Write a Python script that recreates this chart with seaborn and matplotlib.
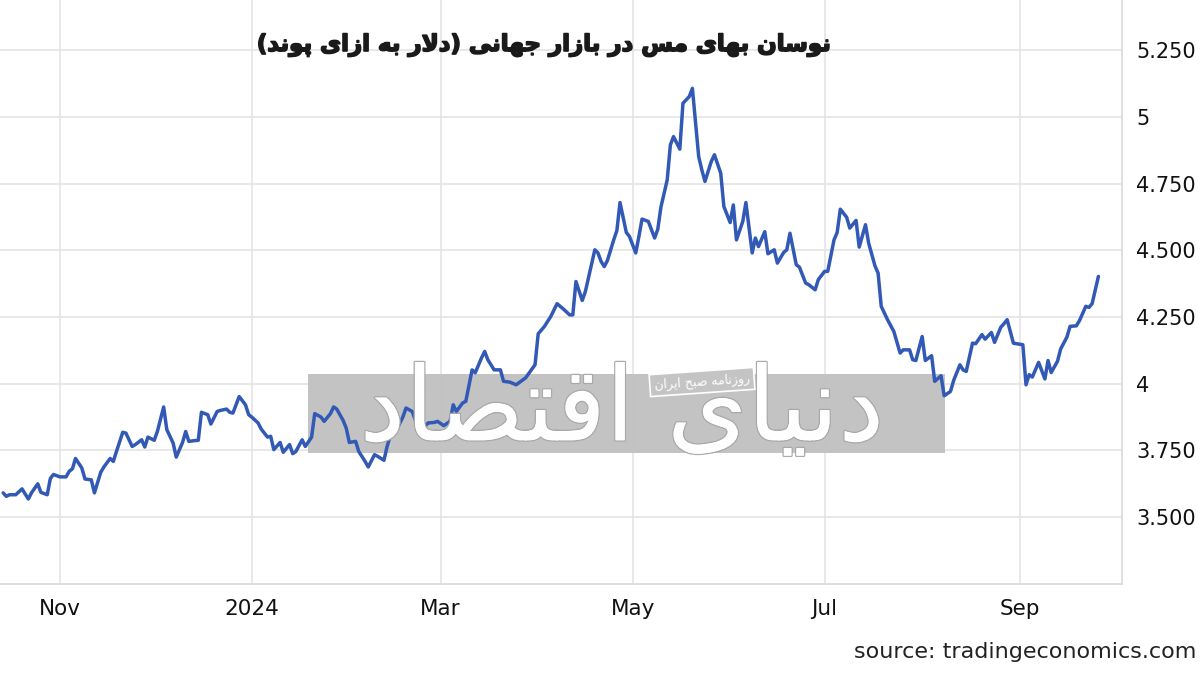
import numpy as np
import pandas as pd
import matplotlib
matplotlib.use("Agg")
import matplotlib.pyplot as plt
import matplotlib.patheffects as pe
from matplotlib.patches import Rectangle
import seaborn as sns

# copper price, USD per pound
start_date = "2023-10-14"
day_offsets = [0, 1, 2, 4, 6, 8, 9, 11, 12, 14, 15, 16, 18, 20, 21, 22, 23, 25, 26, 28,
               29, 31, 32, 34, 35, 36, 38, 39, 41, 42, 44, 45, 46, 48, 49, 51, 52, 54, 55, 57,
               58, 59, 61, 62, 63, 65, 66, 68, 69, 71, 72, 73, 75, 77, 78, 79, 81, 82, 84, 85,
               86, 88, 89, 91, 92, 93, 95, 96, 98, 99, 101, 102, 104, 105, 106, 108, 109, 110, 112, 113,
               115, 116, 118, 119, 121, 122, 124, 125, 127, 128, 130, 132, 134, 135, 137, 138, 140, 142, 143, 144,
               146, 147, 149, 150, 152, 153, 154, 156, 158, 159, 161, 163, 166, 169, 170, 172, 174, 176, 178, 180,
               181, 182, 184, 185, 188, 189, 190, 191, 192, 194, 195, 196, 198, 199, 201, 202, 203, 205, 207, 208,
               209, 211, 212, 213, 215, 216, 218, 219, 221, 222, 223, 225, 226, 228, 229, 231, 232, 233, 235, 236,
               238, 239, 240, 242, 243, 245, 246, 248, 249, 250, 252, 253, 255, 256, 258, 259, 261, 262, 264, 265,
               266, 268, 269, 271, 272, 274, 275, 277, 278, 279, 281, 283, 285, 286, 288, 289, 290, 292, 293, 295,
               296, 298, 299, 301, 302, 304, 305, 306, 308, 309, 311, 312, 314, 315, 317, 318, 319, 321, 322, 324,
               325, 326, 327, 329, 331, 332, 333, 335, 336, 338, 339, 341, 342, 344, 345, 346, 348]
prices = [3.591, 3.578, 3.584, 3.584, 3.606, 3.568, 3.591, 3.625, 3.593, 3.584, 3.645, 3.660, 3.651, 3.651, 3.672, 3.681, 3.720, 3.684, 3.643, 3.640,
          3.591, 3.668, 3.688, 3.720, 3.709, 3.746, 3.818, 3.815, 3.765, 3.772, 3.790, 3.763, 3.800, 3.788, 3.821, 3.913, 3.828, 3.778, 3.725, 3.780,
          3.821, 3.784, 3.787, 3.788, 3.893, 3.884, 3.849, 3.896, 3.900, 3.905, 3.893, 3.890, 3.952, 3.921, 3.884, 3.875, 3.853, 3.830, 3.800, 3.803,
          3.753, 3.780, 3.743, 3.772, 3.738, 3.746, 3.790, 3.765, 3.800, 3.888, 3.875, 3.859, 3.888, 3.913, 3.905, 3.863, 3.834, 3.780, 3.784, 3.746,
          3.709, 3.688, 3.734, 3.728, 3.713, 3.765, 3.846, 3.828, 3.875, 3.909, 3.896, 3.828, 3.840, 3.853, 3.855, 3.859, 3.843, 3.859, 3.921, 3.896,
          3.928, 3.934, 4.052, 4.041, 4.097, 4.121, 4.090, 4.052, 4.052, 4.009, 4.006, 3.996, 4.022, 4.071, 4.187, 4.215, 4.252, 4.300, 4.280, 4.258,
          4.258, 4.383, 4.312, 4.346, 4.502, 4.490, 4.458, 4.439, 4.462, 4.539, 4.574, 4.679, 4.567, 4.552, 4.490, 4.552, 4.617, 4.608, 4.546, 4.579,
          4.662, 4.764, 4.895, 4.926, 4.879, 5.051, 5.076, 5.107, 4.851, 4.801, 4.758, 4.833, 4.858, 4.789, 4.664, 4.604, 4.670, 4.539, 4.608, 4.679,
          4.490, 4.546, 4.514, 4.570, 4.487, 4.502, 4.452, 4.492, 4.502, 4.564, 4.446, 4.437, 4.377, 4.371, 4.352, 4.390, 4.421, 4.421, 4.539, 4.567,
          4.654, 4.624, 4.583, 4.612, 4.512, 4.596, 4.527, 4.442, 4.415, 4.290, 4.240, 4.196, 4.115, 4.127, 4.127, 4.090, 4.087, 4.177, 4.087, 4.105,
          4.009, 4.030, 3.955, 3.971, 4.012, 4.071, 4.052, 4.046, 4.152, 4.150, 4.184, 4.167, 4.192, 4.155, 4.212, 4.225, 4.240, 4.152, 4.150, 4.146,
          3.996, 4.034, 4.025, 4.080, 4.018, 4.087, 4.042, 4.084, 4.130, 4.175, 4.215, 4.217, 4.237, 4.290, 4.286, 4.300, 4.402]

month_ticks = ["2023-11-01", "2024-01-01", "2024-03-01", "2024-05-01", "2024-07-01", "2024-09-01"]
month_labels = ["Nov", "2024", "Mar", "May", "Jul", "Sep"]
y_ticks = [3.5, 3.75, 4.0, 4.25, 4.5, 4.75, 5.0, 5.25]
y_labels = ["3.500", "3.750", "4", "4.250", "4.500", "4.750", "5", "5.250"]

title_fa = "نوسان بهای مس در بازار جهانی (دلار به ازای پوند)"
logo_fa = "دنیای اقتصاد"
logo_sub_fa = "روزنامه صبح ایران"
source_text = "source: tradingeconomics.com"

# matplotlib has no arabic shaping, so pick presentation forms by hand
# (isolated, final, initial, medial)
FORMS = {
    "ا": ("\uFE8D", "\uFE8E", None, None),
    "ب": ("\uFE8F", "\uFE90", "\uFE91", "\uFE92"),
    "پ": ("\uFB56", "\uFB57", "\uFB58", "\uFB59"),
    "ت": ("\uFE95", "\uFE96", "\uFE97", "\uFE98"),
    "ج": ("\uFE9D", "\uFE9E", "\uFE9F", "\uFEA0"),
    "ح": ("\uFEA1", "\uFEA2", "\uFEA3", "\uFEA4"),
    "د": ("\uFEA9", "\uFEAA", None, None),
    "ر": ("\uFEAD", "\uFEAE", None, None),
    "ز": ("\uFEAF", "\uFEB0", None, None),
    "س": ("\uFEB1", "\uFEB2", "\uFEB3", "\uFEB4"),
    "ص": ("\uFEB9", "\uFEBA", "\uFEBB", "\uFEBC"),
    "ق": ("\uFED5", "\uFED6", "\uFED7", "\uFED8"),
    "ل": ("\uFEDD", "\uFEDE", "\uFEDF", "\uFEE0"),
    "م": ("\uFEE1", "\uFEE2", "\uFEE3", "\uFEE4"),
    "ن": ("\uFEE5", "\uFEE6", "\uFEE7", "\uFEE8"),
    "ه": ("\uFEE9", "\uFEEA", "\uFEEB", "\uFEEC"),
    "و": ("\uFEED", "\uFEEE", None, None),
    "ی": ("\uFBFC", "\uFBFD", "\uFBFE", "\uFBFF"),
}


def shape_rtl(text):
    chars = list(text)
    out = []
    i = 0
    while i < len(chars):
        c = chars[i]
        if c not in FORMS:
            out.append({"(": ")", ")": "("}.get(c, c))
            i += 1
            continue
        prev = i > 0 and chars[i - 1] in FORMS and FORMS[chars[i - 1]][2] is not None
        if c == "ل" and i + 1 < len(chars) and chars[i + 1] == "ا":
            out.append("\uFEFC" if prev else "\uFEFB")
            i += 2
            continue
        nxt = FORMS[c][2] is not None and i + 1 < len(chars) and chars[i + 1] in FORMS
        iso, fin, ini, med = FORMS[c]
        out.append(med if (prev and nxt) else fin if prev else ini if nxt else iso)
        i += 1
    return "".join(reversed(out))


df = pd.DataFrame({
    "date": pd.Timestamp(start_date) + pd.to_timedelta(day_offsets, unit="D"),
    "price": prices,
})

sns.set_theme(style="white")
plt.rcParams["font.family"] = ["DejaVu Sans"]

fig = plt.figure(figsize=(12, 6.75), dpi=100)
ax = fig.add_axes([0, 0.135, 0.935, 0.865])

sns.lineplot(data=df, x="date", y="price", ax=ax, color="#3159b5", linewidth=2.5, zorder=4)

ax.set_xlim(pd.Timestamp("2023-10-13"), pd.Timestamp("2024-10-03 12:00"))
ax.set_ylim(3.25, 5.438)
ax.yaxis.tick_right()
ax.set_yticks(y_ticks)
ax.set_yticklabels(y_labels)
ax.set_xticks(pd.to_datetime(month_ticks))
ax.set_xticklabels(month_labels)
ax.set_xlabel("")
ax.set_ylabel("")
ax.grid(True, color="#e4e4e4", linewidth=1.2, zorder=0)
ax.set_axisbelow(True)
ax.tick_params(axis="both", length=0, colors="#111111")
ax.tick_params(axis="y", pad=10, labelsize=15)
ax.tick_params(axis="x", pad=11, labelsize=15.5)
for side in ["top", "left"]:
    ax.spines[side].set_visible(False)
for side in ["right", "bottom"]:
    ax.spines[side].set_color("#dcdcdc")
    ax.spines[side].set_linewidth(1.3)

# watermark of the newspaper
ax.add_patch(Rectangle((308 / 1200, 1 - 453 / 675), 637 / 1200, 79 / 675, transform=fig.transFigure,
                       facecolor="#c0c0c0", edgecolor="none", alpha=0.95, zorder=2))
logo = fig.text(0.518, 0.39, shape_rtl(logo_fa), fontsize=74, color="white", ha="center", va="center",
                zorder=3, alpha=0.95)
logo.set_path_effects([pe.withStroke(linewidth=2, foreground="#a8a8a8"), pe.Normal()])
fig.text(702 / 1200, 1 - 382 / 675, shape_rtl(logo_sub_fa), fontsize=9, color="white", ha="center",
         va="center", rotation=4, zorder=5,
         bbox=dict(boxstyle="square,pad=0.35", facecolor="#c4c4c4", edgecolor="white", linewidth=1.2))

title = fig.text(543 / 1200, 1 - 45 / 675, shape_rtl(title_fa), fontsize=16.5, fontweight="bold",
                 color="#1a1a1a", ha="center", va="center")
title.set_path_effects([pe.withStroke(linewidth=1.2, foreground="#1a1a1a")])
fig.text(1196 / 1200, 1 - 652 / 675, source_text, fontsize=16, color="#222222", ha="right", va="center")

fig.savefig("out.png", dpi=100)
